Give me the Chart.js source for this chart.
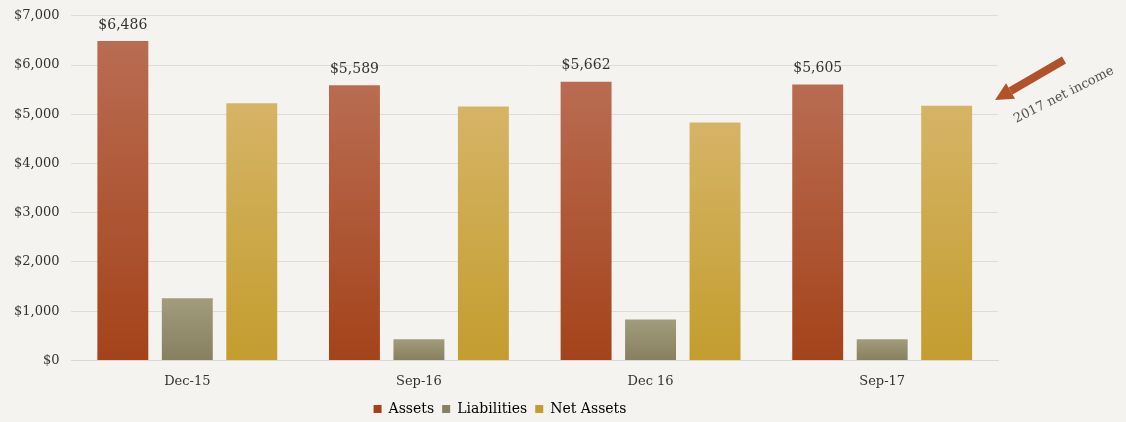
<!DOCTYPE html>
<html>
<head>
<meta charset="utf-8">
<script src="https://cdn.jsdelivr.net/npm/chart.js@4/dist/chart.umd.min.js"></script>
<style>
  html, body { margin: 0; padding: 0; background: #f4f3ef; overflow: hidden; }
  #wrap { width: 1126px; height: 424px; position: relative; margin-top: -4px; }
</style>
</head>
<body>
<div id="wrap"><canvas id="myChart"></canvas></div>
<script>
var periods = ["Dec-15", "Sep-16", "Dec 16", "Sep-17"];
var assets = [6486, 5589, 5662, 5605];
var liabilities = [1260, 430, 830, 430];
var netAssets = [5226, 5159, 4832, 5175];
var yTicks = [0, 1000, 2000, 3000, 4000, 5000, 6000, 7000];

var serif = "'DejaVu Serif', 'Liberation Serif', serif";

// colours, top -> bottom of each bar
var shades = [
  ["#b96c52", "#a4431a"],
  ["#a19c7c", "#877f60"],
  ["#d6b466", "#c39d2e"]
];

function money(v) {
  return "$" + v.toLocaleString("en-US");
}

// gradient that runs over each bar on its own
function barFill(i) {
  return function(ctx) {
    var chart = ctx.chart;
    if (!chart.chartArea || ctx.type !== "data") return shades[i][1];
    var y = chart.scales.y;
    var top = y.getPixelForValue(ctx.raw);
    var base = y.getPixelForValue(0);
    var g = chart.ctx.createLinearGradient(0, top, 0, base);
    g.addColorStop(0, shades[i][0]);
    g.addColorStop(1, shades[i][1]);
    return g;
  };
}

// values over the Assets bars
var topLabels = {
  id: "topLabels",
  afterDatasetsDraw: function(chart) {
    var c = chart.ctx;
    var meta = chart.getDatasetMeta(0);
    c.save();
    c.font = "14px " + serif;
    c.fillStyle = "#333";
    c.textAlign = "center";
    c.textBaseline = "bottom";
    meta.data.forEach(function(bar, i) {
      c.fillText(money(assets[i]), bar.x, bar.y - 9);
    });
    c.restore();
  }
};

// arrow + note at the right side
var netNote = {
  id: "netNote",
  afterDraw: function(chart) {
    var c = chart.ctx;
    var tail = [1064, 64], tip = [995, 104];
    var dx = tip[0] - tail[0], dy = tip[1] - tail[1];
    var len = Math.sqrt(dx * dx + dy * dy);
    var ux = dx / len, uy = dy / len, px = -uy, py = ux;
    var bx = tip[0] - 18 * ux, by = tip[1] - 18 * uy;
    c.save();
    c.strokeStyle = "#b0522a";
    c.fillStyle = "#b0522a";
    c.lineWidth = 8;
    c.beginPath();
    c.moveTo(tail[0], tail[1]);
    c.lineTo(bx, by);
    c.stroke();
    c.beginPath();
    c.moveTo(tip[0], tip[1]);
    c.lineTo(bx + 9 * px, by + 9 * py);
    c.lineTo(bx - 9 * px, by - 9 * py);
    c.closePath();
    c.fill();
    c.translate(1064, 99);
    c.rotate(-0.47);
    c.font = "13px " + serif;
    c.fillStyle = "#4f4f4f";
    c.textAlign = "center";
    c.textBaseline = "middle";
    c.fillText("2017 net income", 0, 0);
    c.restore();
  }
};

var ctx = document.getElementById("myChart").getContext("2d");
new Chart(ctx, {
  type: "bar",
  data: {
    labels: periods,
    datasets: [
      { label: "Assets", data: assets, backgroundColor: barFill(0) },
      { label: "Liabilities", data: liabilities, backgroundColor: barFill(1) },
      { label: "Net Assets", data: netAssets, backgroundColor: barFill(2) }
    ]
  },
  options: {
    responsive: true,
    maintainAspectRatio: false,
    animation: false,
    categoryPercentage: 0.835,
    barPercentage: 0.79,
    layout: { padding: { left: 2, right: 128, top: 0, bottom: -6 } },
    plugins: {
      legend: {
        position: "bottom",
        labels: {
          boxWidth: 8,
          boxHeight: 8,
          padding: 8,
          color: "#333",
          font: { family: serif, size: 14 },
          generateLabels: function(chart) {
            return chart.data.datasets.map(function(ds, i) {
              return { text: ds.label, fillStyle: shades[i][1], strokeStyle: shades[i][1], lineWidth: 0, datasetIndex: i };
            });
          }
        }
      },
      tooltip: { enabled: false }
    },
    scales: {
      x: {
        grid: { display: false },
        border: { color: "#d9d7d2" },
        ticks: { color: "#333", padding: 5, font: { family: serif, size: 13 } }
      },
      y: {
        min: 0,
        max: 7000,
        afterBuildTicks: function(axis) {
          axis.ticks = yTicks.map(function(v) { return { value: v }; });
        },
        grid: { color: "#dedcd7", drawTicks: false },
        border: { display: false },
        ticks: {
          color: "#333",
          padding: 12,
          font: { family: serif, size: 13 },
          callback: function(v) { return money(v); }
        }
      }
    }
  },
  plugins: [topLabels, netNote]
});
</script>
</body>
</html>
